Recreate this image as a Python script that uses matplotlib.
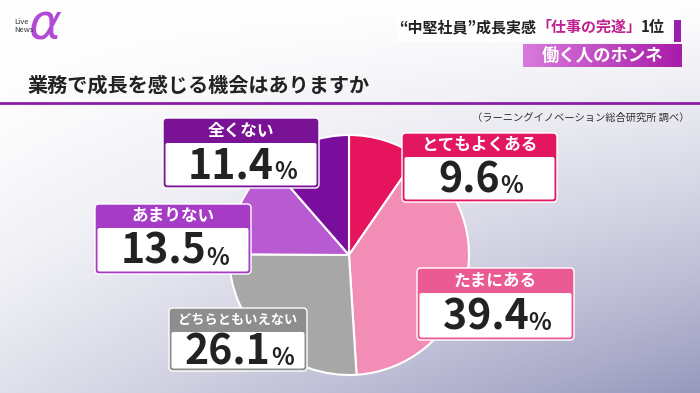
import matplotlib.pyplot as plt
from matplotlib.patches import FancyBboxPatch, Rectangle
import numpy as np

plt.rcParams['font.family'] = ['Noto Sans CJK JP', 'DejaVu Sans']

# data
labels = ['とてもよくある', 'たまにある', 'どちらともいえない', 'あまりない', '全くない']
values = [9.6, 39.4, 26.1, 13.5, 11.4]
title = '業務で成長を感じる機会はありますか'
source = '（ラーニングイノベーション総合研究所 調べ）'
headline = ['“中堅社員”成長実感', '「仕事の完遂」', '1位']
corner = '働く人のホンネ'

# styles
pie_colors = ['#E5145C', '#F28DB6', '#A7A7A7', '#B85AD2', '#7A0E9C']
head_colors = ['#E3175F', '#EC5A93', '#8E8E8E', '#A63CC6', '#7A1296']
# label box layout in pixels: left, top, right, bottom, header bottom
boxes = [(402, 133, 557, 202, 157),
         (417, 268, 574, 340, 293),
         (169, 308, 307, 371, 332),
         (95, 204, 251, 274, 228),
         (163, 118, 319, 188, 143)]
head_size = [12, 12, 9.5, 12, 12]

W, H = 700, 393


def Y(y):
    return H - y


fig = plt.figure(figsize=(7, 3.93), dpi=100)
ax = fig.add_axes([0, 0, 1, 1])

# background gradient
xx, yy = np.meshgrid(np.linspace(0, 1, W), np.linspace(0, 1, H))
t = 0.7 * xx * yy + 0.3 * yy ** 2
c0 = np.array([1.0, 1.0, 1.0])
c1 = np.array([0x98, 0x98, 0xBE]) / 255
bg = c0 * (1 - t[..., None]) + c1 * t[..., None]
ax.imshow(bg, extent=(0, W, 0, H), origin='upper', zorder=0)

# logo
ax.text(45, Y(26), 'α', fontsize=36, color='#B24AD6', style='italic',
        ha='center', va='center', family='DejaVu Sans', zorder=2)
ax.text(14, Y(26), 'Live\nNews', fontsize=5.5, color='#333333', ha='left',
        va='center', linespacing=0.9, zorder=3)

# headline box
ax.add_patch(Rectangle((397, Y(42)), 283, 30, facecolor='white', alpha=0.85,
                       edgecolor='none', zorder=2))
ax.add_patch(Rectangle((674, Y(42)), 7, 22, facecolor='#9A1FB0', edgecolor='none', zorder=3))
t1 = ax.text(399, Y(27), headline[0], fontsize=10.8, fontweight='bold',
             color='#222222', ha='left', va='center', zorder=4)
t2 = ax.annotate(headline[1], xy=(1, 0.5), xycoords=t1, ha='left', va='center',
                 fontsize=10.8, fontweight='bold', color='#C0218F', zorder=4)
ax.annotate(headline[2], xy=(1, 0.5), xycoords=t2, ha='left', va='center',
            fontsize=10.8, fontweight='bold', color='#222222', zorder=4)

# corner tag with gradient
grad = np.linspace(0, 1, 100)[None, :, None]
g0 = np.array([0xD8, 0x7A, 0xDC]) / 255
g1 = np.array([0xA8, 0x1C, 0xA8]) / 255
ax.imshow(g0 * (1 - grad) + g1 * grad, extent=(523, 682, Y(67), Y(44)),
          aspect='auto', zorder=2)
ax.text(603, Y(55.5), corner, fontsize=12.5, fontweight='bold', color='white',
        ha='center', va='center', zorder=3)

# title and rule
ax.text(27, Y(85), title, fontsize=14.5, fontweight='bold', color='#222222',
        ha='left', va='center', zorder=3)
ax.plot([0, W], [Y(103), Y(103)], color='#8C1CA8', linewidth=2, zorder=3)
ax.text(690, Y(118), source, fontsize=7.4, color='#333333', ha='right',
        va='center', zorder=3)

# pie
ax.pie(values, colors=pie_colors, startangle=90, counterclock=False,
       center=(349, Y(255)), radius=120,
       wedgeprops=dict(edgecolor='white', linewidth=1.5, zorder=2))

# label boxes
for lab, v, hc, (x0, y0, x1, y1, yh), hs in zip(labels, values, head_colors, boxes, head_size):
    ax.add_patch(FancyBboxPatch((x0, Y(y1)), x1 - x0, y1 - y0,
                                boxstyle='round,pad=0,rounding_size=4',
                                facecolor=hc, edgecolor='white', linewidth=1, zorder=5))
    ax.add_patch(FancyBboxPatch((x0 + 2.5, Y(y1) + 2.5), x1 - x0 - 5, y1 - yh - 2.5,
                                boxstyle='round,pad=0,rounding_size=2',
                                facecolor='white', edgecolor='none', zorder=6))
    cx = (x0 + x1) / 2
    ax.text(cx, Y((y0 + yh) / 2), lab, fontsize=hs, fontweight='bold', color='white',
            ha='center', va='center', zorder=7)
    num = ax.text(cx - 10, Y((yh + y1) / 2 + 1), f'{v:.1f}', fontsize=29.5,
                  fontweight='bold', color='#222222', ha='center', va='center', zorder=7)
    ax.annotate('%', xy=(1, 0.2), xycoords=num, ha='left', va='baseline',
                fontsize=17, fontweight='bold', color='#222222', zorder=7)

ax.set_xlim(0, W)
ax.set_ylim(0, H)
ax.set_aspect('auto')
ax.axis('off')

fig.savefig('out.png', dpi=100)
